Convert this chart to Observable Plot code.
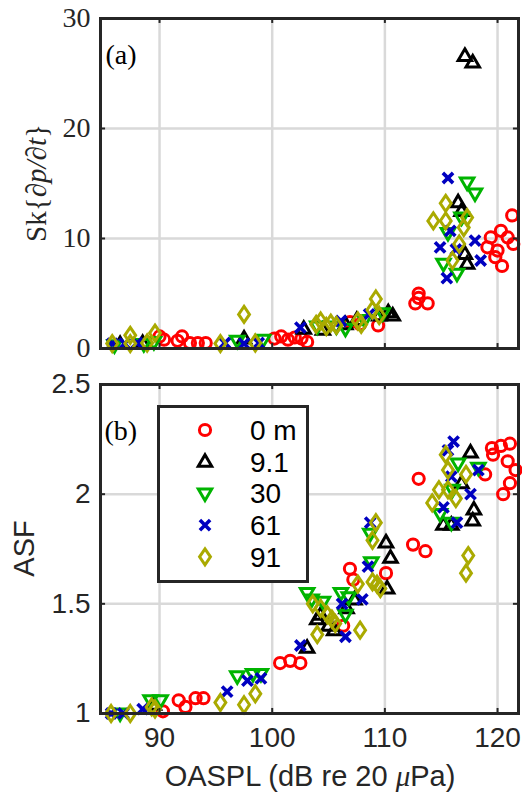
<!DOCTYPE html>
<html><head><meta charset="utf-8">
<script src="https://cdn.jsdelivr.net/npm/d3@7"></script>
<script src="https://cdn.jsdelivr.net/npm/@observablehq/plot@0.6"></script>
<style>
body{margin:0;background:#fff;}
#wrap{position:relative;width:522px;height:797px;}
#wrap svg{position:absolute;left:0;}
</style></head><body><div id="wrap"></div>
<script>
// ---- data: [OASPL, Sk] top panel ----
const topRed = [[90.0,1.1],[90.4,0.8],[91.6,0.7],[92.0,1.1],[92.7,0.5],[93.4,0.5],[94.1,0.5],[100.2,0.9],[100.8,1.1],[101.4,0.8],[102.0,1.0],[102.6,0.9],[103.1,0.6],[106.9,2.4],[107.8,2.2],[109.4,2.1],[112.7,4.1],[113.0,5.0],[113.0,4.6],[113.8,4.1],[119.1,9.2],[119.4,10.1],[119.8,8.3],[120.0,8.9],[120.3,10.7],[120.4,7.5],[120.9,10.1],[121.3,12.1],[121.4,9.5]];
const topBlack = [[86.5,0.4],[88.5,0.5],[97.5,0.9],[102.8,1.8],[104.5,1.7],[106.5,2.2],[107.5,2.6],[109.5,3.0],[110.3,3.3],[110.7,3.0],[116.5,13.3],[116.8,12.5],[117.1,8.6],[117.3,7.7],[117.1,26.6],[117.8,26.0]];
const topGreen = [[86.0,0.3],[88.6,0.4],[89.5,0.6],[96.9,0.7],[99.2,0.8],[104.0,2.0],[105.7,2.0],[106.5,1.8],[108.2,2.6],[109.8,3.2],[115.2,7.7],[115.6,10.5],[116.4,6.8],[117.3,15.1],[118.0,14.1],[116.8,11.9]];
const topBlue = [[85.8,0.45],[86.9,0.45],[88.0,0.5],[95.8,0.5],[97.5,0.45],[98.8,0.5],[102.5,1.9],[106.1,2.5],[108.6,3.1],[115.6,15.5],[115.8,10.7],[114.9,9.2],[118.0,9.8],[118.5,8.0],[115.5,6.4],[116.3,9.0]];
const topOlive = [[85.8,0.45],[87.4,1.2],[87.4,0.45],[88.9,0.5],[89.6,1.4],[95.4,0.45],[97.5,3.1],[98.5,0.5],[103.9,2.2],[104.3,2.5],[104.8,2.0],[105.2,2.3],[105.7,2.1],[107.6,2.5],[107.9,2.2],[108.9,3.5],[109.2,4.5],[109.5,3.0],[115.4,13.2],[114.3,11.6],[115.4,11.6],[117.3,11.9],[117.0,11.0],[116.6,9.5],[116.0,8.0]];
// ---- data: [OASPL, ASF] bottom panel ----
const botRed = [[90.3,1.01],[91.7,1.06],[92.3,1.03],[93.2,1.07],[93.9,1.07],[100.7,1.23],[101.6,1.24],[102.5,1.23],[106.3,1.40],[106.9,1.66],[107.2,1.61],[110.1,1.64],[112.5,1.77],[113.6,1.74],[113.0,2.07],[118.9,2.09],[119.5,2.21],[119.6,2.18],[120.3,2.22],[120.5,2.00],[120.9,2.15],[121.1,2.23],[121.1,2.05],[121.6,2.11]];
const botBlack = [[89.5,1.04],[103.1,1.30],[104.0,1.43],[104.3,1.45],[105.0,1.40],[105.5,1.38],[106.6,1.48],[107.3,1.52],[110.1,1.78],[110.5,1.71],[110.2,1.57],[115.2,1.86],[115.9,1.86],[117.6,2.19],[117.9,1.93],[117.8,1.88],[116.8,2.05]];
const botGreen = [[86.5,1.0],[89.2,1.06],[90.1,1.06],[96.9,1.17],[98.3,1.18],[99.0,1.18],[103.1,1.55],[103.5,1.52],[104.5,1.51],[106.1,1.55],[106.5,1.45],[106.8,1.53],[108.7,1.82],[108.8,1.69],[114.9,1.91],[115.9,1.87],[116.5,2.14],[118.3,2.12],[116.0,2.02]];
const botBlue = [[85.7,1.0],[86.8,1.0],[88.5,1.02],[96.0,1.10],[97.8,1.15],[99.0,1.16],[102.5,1.31],[106.2,1.50],[108.0,1.52],[106.5,1.35],[108.5,1.67],[108.7,1.87],[116.1,2.24],[115.6,2.20],[118.3,2.11],[117.6,2.00],[115.2,1.94],[116.4,1.87],[115.9,2.08]];
const botOlive = [[85.7,1.0],[87.4,1.0],[89.3,1.03],[89.6,1.02],[95.4,1.05],[97.5,1.04],[98.5,1.09],[104.0,1.36],[103.6,1.50],[104.3,1.48],[104.9,1.45],[105.3,1.43],[105.6,1.41],[107.8,1.38],[107.6,1.59],[108.9,1.60],[109.3,1.59],[109.6,1.57],[108.9,1.79],[109.2,1.87],[115.4,2.18],[115.6,2.11],[117.2,2.09],[114.8,2.02],[114.2,1.96],[116.3,1.98],[115.6,2.02],[117.4,1.72],[117.2,1.64]];

const legendLabels = ["0 m","9.1","30","61","91"];
const xTicks = [90,100,110,120];
const skTicks = [0,10,20,30];
const asfTicks = [1,1.5,2,2.5];
const xDomain = [84.76, 121.86];
const skDomain = [0, 30];
const asfDomain = [1, 2.5];

// ---- styles ----
const colors = ["#ff0000","#000000","#00b400","#0000c0","#aaaa00"];
function sym(fn){return {draw(ctx,size){const r=Math.sqrt(size/Math.PI);fn(ctx,r);}};}
const circ = sym((c,r)=>{c.moveTo(r,0);c.arc(0,0,r,0,2*Math.PI);});
const triUp = sym((c,r)=>{c.moveTo(0,-r*1.1);c.lineTo(r*1.05,r*0.7);c.lineTo(-r*1.05,r*0.7);c.closePath();});
const triDn = sym((c,r)=>{c.moveTo(0,r*1.1);c.lineTo(r*1.05,-r*0.7);c.lineTo(-r*1.05,-r*0.7);c.closePath();});
const cross = sym((c,r)=>{const k=r*0.8;c.moveTo(-k,-k);c.lineTo(k,k);c.moveTo(k,-k);c.lineTo(-k,k);});
const diam = sym((c,r)=>{c.moveTo(0,-r*1.25);c.lineTo(r*0.85,0);c.lineTo(0,r*1.25);c.lineTo(-r*0.85,0);c.closePath();});
const symbols = [circ,triUp,triDn,cross,diam];
const radii = [5.6,6.4,6.4,6.4,6.4];
const widths = [3,3,3,3.6,3];
const gridColor = "#d9d9d9", frameColor = "#262626";
const numFmt = d => String(d);

function series(sets){
  return sets.map((d,i)=>Plot.dot(d,{x:e=>e[0],y:e=>e[1],symbol:symbols[i],r:radii[i],stroke:colors[i],fill:"none",strokeWidth:widths[i]}));
}
function inwardTicks(yd, tk, dy){
  const dx = 0.45;
  return [
    Plot.ruleX(xTicks,{y1:yd[0],y2:yd[0]+dy,stroke:frameColor,strokeWidth:2}),
    Plot.ruleX(xTicks,{y1:yd[1],y2:yd[1]-dy,stroke:frameColor,strokeWidth:2}),
    Plot.ruleY(tk,{x1:xDomain[0],x2:xDomain[0]+dx,stroke:frameColor,strokeWidth:2}),
    Plot.ruleY(tk,{x1:xDomain[1],x2:xDomain[1]-dx,stroke:frameColor,strokeWidth:2})
  ];
}

const wrap = document.getElementById("wrap");

// ---- top panel ----
const topChart = Plot.plot({
  width:522, height:375, marginLeft:100, marginRight:4, marginTop:18, marginBottom:27,
  style:{fontFamily:"'Liberation Serif', serif", fontSize:"28px", color:"#262626", background:"transparent"},
  x:{domain:xDomain, axis:null},
  y:{domain:skDomain},
  marks:[
    Plot.ruleX(xTicks,{stroke:gridColor,strokeWidth:2.5}),
    Plot.ruleY(skTicks,{stroke:gridColor,strokeWidth:2.5}),
    ...series([topRed,topBlack,topGreen,topBlue,topOlive]),
    ...inwardTicks(skDomain, skTicks, 0.45),
    Plot.frame({stroke:frameColor,strokeWidth:3}),
    Plot.axisY(skTicks,{tickSize:0,tickPadding:10,label:null,fontSize:28,fill:"#262626",tickFormat:numFmt}),
    Plot.text(["(a)"],{frameAnchor:"top-left",dx:5,dy:26,fontSize:28,fill:"#000",textAnchor:"start"})
  ]
});
topChart.style.top = "0px";
wrap.appendChild(topChart);
{
  const t = d3.select(topChart).append("text")
    .attr("transform","translate(46,183) rotate(-90)")
    .attr("text-anchor","middle")
    .attr("font-family","'Liberation Serif', serif").attr("font-size",29).attr("fill","#262626");
  t.append("tspan").text("Sk{");
  t.append("tspan").attr("font-style","italic").text("∂p/∂t");
  t.append("tspan").text("}");
}

// ---- bottom panel ----
const botChart = Plot.plot({
  width:522, height:437, marginLeft:100, marginRight:4, marginTop:24, marginBottom:84,
  style:{fontFamily:"'Liberation Sans', Arial, sans-serif", fontSize:"28px", color:"#262626", background:"transparent"},
  x:{domain:xDomain},
  y:{domain:asfDomain},
  marks:[
    Plot.ruleX(xTicks,{stroke:gridColor,strokeWidth:2.5}),
    Plot.ruleY(asfTicks,{stroke:gridColor,strokeWidth:2.5}),
    ...series([botRed,botBlack,botGreen,botBlue,botOlive]),
    ...inwardTicks(asfDomain, asfTicks, 0.023),
    Plot.frame({stroke:frameColor,strokeWidth:3}),
    Plot.axisY(asfTicks,{tickSize:0,tickPadding:10,label:null,fontSize:28,fill:"#262626",tickFormat:numFmt}),
    Plot.axisX(xTicks,{tickSize:0,tickPadding:14,label:null,fontSize:28,fill:"#262626",tickFormat:numFmt}),
    Plot.text(["(b)"],{frameAnchor:"top-left",dx:4,dy:36,fontSize:28,fill:"#000",textAnchor:"start",fontFamily:"'Liberation Serif', serif"})
  ]
});
botChart.style.top = "360px";
wrap.appendChild(botChart);
{
  d3.select(botChart).append("text")
    .attr("transform","translate(34,188.5) rotate(-90)")
    .attr("text-anchor","middle")
    .attr("font-family","'Liberation Sans', Arial, sans-serif").attr("font-size",29).attr("fill","#262626")
    .text("ASF");
  const t = d3.select(botChart).append("text")
    .attr("x",310).attr("y",426).attr("text-anchor","middle")
    .attr("font-family","'Liberation Sans', Arial, sans-serif").attr("font-size",29).attr("fill","#262626");
  t.append("tspan").text("OASPL (dB re 20 ");
  t.append("tspan").attr("font-style","italic").attr("font-family","'Liberation Serif', serif").text("μ");
  t.append("tspan").text("Pa)");
}

// ---- legend ----
{
  const lg = d3.select(wrap).append("svg")
    .attr("width",152).attr("height",178)
    .style("left","157px").style("top","405px");
  lg.append("rect").attr("x",1.5).attr("y",1.5).attr("width",149).attr("height",175)
    .attr("fill","#fff").attr("stroke",frameColor).attr("stroke-width",3);
  legendLabels.forEach((lab,i)=>{
    const y = 25 + i*31.7;
    lg.append("path")
      .attr("d", d3.symbol(symbols[i], radii[i]*radii[i]*Math.PI)())
      .attr("transform",`translate(48,${y})`)
      .attr("fill","none").attr("stroke",colors[i]).attr("stroke-width",widths[i]);
    lg.append("text").attr("x",93).attr("y",y).attr("dy","0.36em")
      .attr("font-family","'Liberation Sans', Arial, sans-serif").attr("font-size",28).attr("fill","#000")
      .text(lab);
  });
}
</script></body></html>
